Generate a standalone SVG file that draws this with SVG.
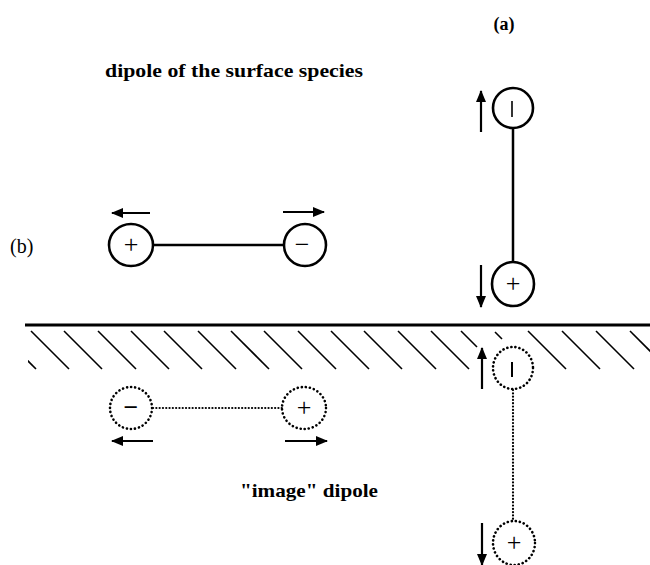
<svg xmlns="http://www.w3.org/2000/svg" width="650" height="565" viewBox="0 0 650 565">
<style>
.lbl{font-family:"Liberation Serif","Times New Roman",serif;fill:#000}
.b{font-weight:bold}
.sol{fill:none;stroke:#000;stroke-width:2.6}
.dot{fill:none;stroke:#000;stroke-width:2.6;stroke-dasharray:0.1 4;stroke-linecap:round}
.dotl{fill:none;stroke:#000;stroke-width:2.2;stroke-dasharray:0.1 3.2;stroke-linecap:round}
.conn{stroke:#000;stroke-width:2.5;fill:none}
.arr{stroke:#000;stroke-width:2.2;fill:none;marker-end:url(#ah)}
.hatch{stroke:#000;stroke-width:1.6}
.sign{font-family:"Liberation Serif","Times New Roman",serif;font-size:26px;text-anchor:middle;fill:#000}
</style>
<defs>
<marker id="ah" markerUnits="userSpaceOnUse" markerWidth="12" markerHeight="10" refX="11" refY="5" orient="auto">
<path d="M0,0 L12,5 L0,10 z" fill="#000"/>
</marker>
<clipPath id="hc"><rect x="28" y="327" width="622" height="50"/></clipPath>
</defs>
<rect width="650" height="565" fill="#fff"/>

<g id="labels">
<text class="lbl b" x="504" y="30" font-size="18" text-anchor="middle">(a)</text>
<text class="lbl b" x="105" y="77" font-size="19" textLength="258" lengthAdjust="spacingAndGlyphs">dipole of the surface species</text>
<text class="lbl" x="10" y="253" font-size="20">(b)</text>
<text class="lbl b" x="240" y="497" font-size="19" textLength="138" lengthAdjust="spacingAndGlyphs">"image" dipole</text>
</g>

<g id="surface">
<line x1="25" y1="325" x2="650" y2="325" stroke="#000" stroke-width="3.2"/>
<g clip-path="url(#hc)" class="hatch">
<line x1="-2" y1="331" x2="36" y2="369"/>
<line x1="31" y1="331" x2="69" y2="369"/>
<line x1="64" y1="331" x2="102" y2="369"/>
<line x1="98" y1="331" x2="136" y2="369"/>
<line x1="131" y1="331" x2="169" y2="369"/>
<line x1="164" y1="331" x2="202" y2="369"/>
<line x1="198" y1="331" x2="236" y2="369"/>
<line x1="231" y1="331" x2="269" y2="369"/>
<line x1="264" y1="331" x2="302" y2="369"/>
<line x1="298" y1="331" x2="336" y2="369"/>
<line x1="331" y1="331" x2="369" y2="369"/>
<line x1="364" y1="331" x2="402" y2="369"/>
<line x1="398" y1="331" x2="436" y2="369"/>
<line x1="431" y1="331" x2="469" y2="369"/>
<line x1="461" y1="331" x2="477" y2="347"/>
<line x1="495" y1="332" x2="502" y2="339"/>
<line x1="528" y1="331" x2="566" y2="369"/>
<line x1="562" y1="331" x2="600" y2="369"/>
<line x1="596" y1="331" x2="634" y2="369"/>
<line x1="630" y1="331" x2="668" y2="369"/>
</g>
</g>

<g id="connectors">
<line class="conn" x1="513" y1="128" x2="513" y2="262"/>
<line class="conn" x1="153" y1="245" x2="284" y2="245"/>
<line class="dotl" x1="153" y1="408" x2="283" y2="408"/>
<line class="dotl" x1="513" y1="390" x2="513" y2="521"/>
</g>

<g id="arrows">
<line class="arr" x1="481" y1="132" x2="481" y2="91"/>
<line class="arr" x1="481" y1="265" x2="481" y2="307"/>
<line class="arr" x1="150" y1="213" x2="112" y2="213"/>
<line class="arr" x1="283" y1="212" x2="324" y2="212"/>
<line class="arr" x1="482" y1="389" x2="482" y2="348"/>
<line class="arr" x1="482" y1="523" x2="482" y2="565"/>
<line class="arr" x1="153" y1="441" x2="112" y2="441"/>
<line class="arr" x1="285" y1="441" x2="327" y2="441"/>
</g>

<g id="node-a-top">
<ellipse class="sol" cx="513" cy="108" rx="20" ry="20"/>
<line x1="512" y1="101" x2="512" y2="117" stroke="#000" stroke-width="1.6"/>
</g>
<g id="node-a-bottom">
<ellipse class="sol" cx="513" cy="284" rx="21" ry="22"/>
<text class="sign" x="513" y="292">+</text>
</g>
<g id="node-b-left">
<ellipse class="sol" cx="131" cy="245" rx="22" ry="21"/>
<text class="sign" x="131" y="253">+</text>
</g>
<g id="node-b-right">
<ellipse class="sol" cx="305" cy="245" rx="21" ry="21"/>
<text class="sign" x="302" y="253">−</text>
</g>
<g id="image-a-top">
<ellipse class="dot" cx="513" cy="368" rx="20" ry="21"/>
<line x1="512" y1="362" x2="512" y2="377" stroke="#000" stroke-width="2"/>
</g>
<g id="image-a-bottom">
<ellipse class="dot" cx="514" cy="543" rx="21" ry="22"/>
<text class="sign" x="514" y="551">+</text>
</g>
<g id="image-b-left">
<ellipse class="dot" cx="131" cy="408" rx="21" ry="21"/>
<text class="sign" x="131" y="416" font-weight="bold">−</text>
</g>
<g id="image-b-right">
<ellipse class="dot" cx="304" cy="408" rx="22" ry="21"/>
<text class="sign" x="304" y="416">+</text>
</g>
</svg>
